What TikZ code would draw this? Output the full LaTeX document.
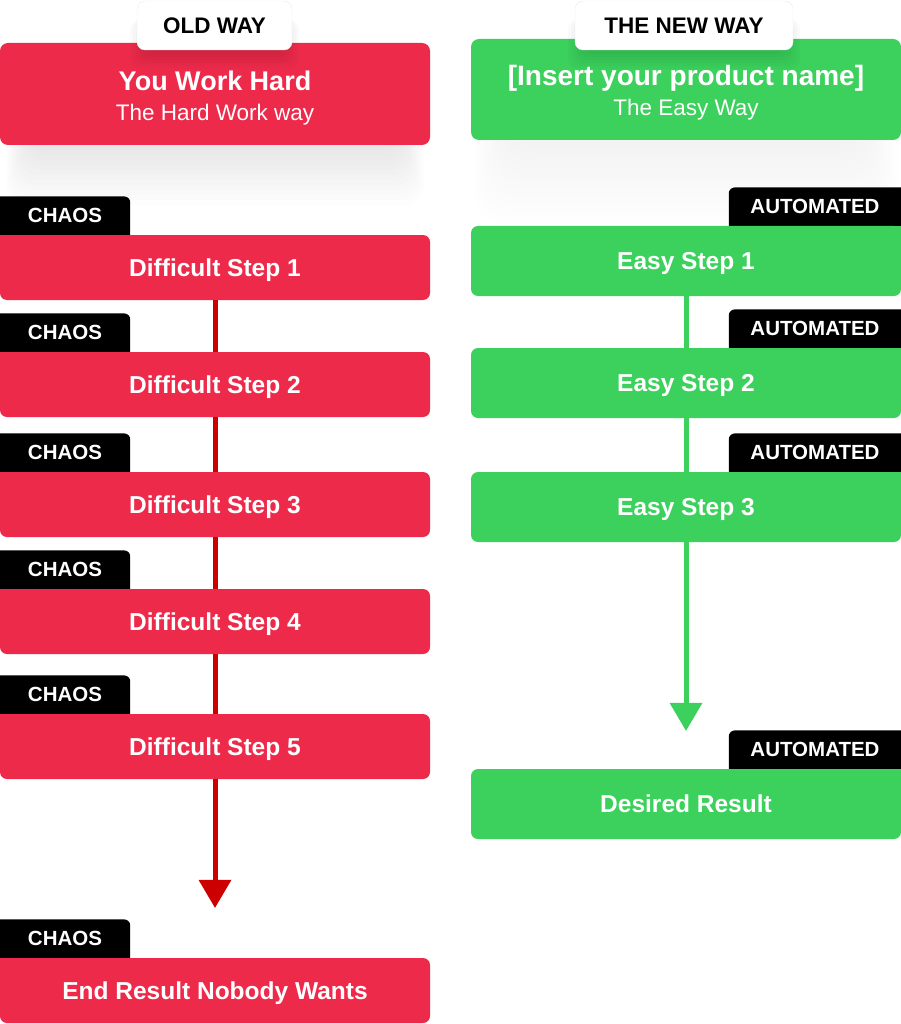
\documentclass[tikz,border=0pt]{standalone}
\usepackage{fontspec}
\setmainfont{Liberation Sans}
\usetikzlibrary{positioning,arrows.meta,backgrounds}
\definecolor{hardred}{RGB}{238,42,75}
\definecolor{easygreen}{RGB}{60,209,92}
\definecolor{arrowred}{RGB}{204,0,0}

\begin{document}
\begin{tikzpicture}[x=1pt,y=-1pt,
    headbox/.style={rounded corners=8pt,minimum width=430pt,inner sep=0pt,text=white,align=center,text height=57pt,font=\fontsize{22.5}{30}\selectfont},
    stepbox/.style={fill=hardred,rounded corners=7pt,minimum width=430pt,minimum height=65pt,inner sep=0pt,text depth=0pt,text=white,font=\fontsize{24.5}{28}\selectfont\bfseries},
    easybox/.style={stepbox,fill=easygreen,minimum height=70pt},
    tagbox/.style={minimum height=38pt,inner sep=0pt,text=white,font=\fontsize{20.5}{24}\selectfont\bfseries},
    tabbox/.style={fill=white,draw=black!7,rounded corners=8pt,minimum height=49pt,inner sep=0pt,font=\fontsize{22.5}{26}\selectfont\bfseries},
    redline/.style={arrowred,line width=5pt},
    greenline/.style={easygreen,line width=5pt},
    headtip/.style={-{Triangle[width=33pt,length=28pt,line width=0pt]}}]
		\useasboundingbox (0,0) rectangle (901,1024);

		% soft shadows under the headers
		\foreach \i in {1,...,12}
			\fill[black,opacity=0.007,rounded corners=20pt] (30-2*\i,100) rectangle (400+2*\i,145+5*\i);
		\foreach \i in {1,...,12}
			\fill[black,opacity=0.004,rounded corners=30pt] (510-3*\i,100) rectangle (862+3*\i,140+7*\i);

		\node[headbox,fill=hardred,minimum height=102pt] (hard) at (215,94) {{\fontsize{27}{30}\selectfont\bfseries You Work Hard}\\The Hard Work way};
		\node[headbox,fill=easygreen,minimum height=101pt] (easy) at (686,89.5) {{\fontsize{28}{30}\selectfont\bfseries [Insert your product name]}\\The Easy Way};

		\foreach \i in {0,...,5}
			\fill[black,opacity=0.02,rounded corners=10pt] (145-3*\i,20) rectangle (284+3*\i,54+3*\i);
		\foreach \i in {0,...,5}
			\fill[black,opacity=0.02,rounded corners=10pt] (583-3*\i,20) rectangle (785+3*\i,54+3*\i);
		\node[tabbox,minimum width=155pt] (old) at (214.5,25.5) {OLD WAY};
		\node[tabbox,minimum width=218pt] (new) at (684,25.5) {THE NEW WAY};

		\node[stepbox] (d1) at (215,267.5) {Difficult Step 1};
		\node[stepbox] (d2) at (215,384.5) {Difficult Step 2};
		\node[stepbox] (d3) at (215,504.5) {Difficult Step 3};
		\node[stepbox] (d4) at (215,621.5) {Difficult Step 4};
		\node[stepbox] (d5) at (215,746.5) {Difficult Step 5};
		\node[stepbox] (dres) at (215,990.5) {End Result Nobody Wants};

		\node[easybox] (e1) at (686,261) {Easy Step 1};
		\node[easybox] (e2) at (686,383) {Easy Step 2};
		\node[easybox] (e3) at (686,507) {Easy Step 3};
		\node[easybox] (eres) at (686,804) {Desired Result};

		\foreach \s in {d1,d2,d3,d4,d5,dres} {
			\fill[hardred] (\s.north west) rectangle ++(8,8);
			\node[tagbox,minimum width=130pt,above right=0pt of \s.north west] (\s-tag) {CHAOS};
			\begin{scope}[on background layer]
				\fill (\s-tag.south west) |- ([xshift=-6pt]\s-tag.north east) arc[start angle=-90,end angle=0,radius=6] -- (\s-tag.south east) -- cycle;
			\end{scope}
		}
		\foreach \s in {e1,e2,e3,eres} {
			\fill[easygreen] (\s.north east) rectangle ++(-8,8);
			\node[tagbox,minimum width=172pt,above left=0pt of \s.north east] (\s-tag) {AUTOMATED};
			\begin{scope}[on background layer]
				\fill (\s-tag.south east) |- ([xshift=6pt]\s-tag.north west) arc[start angle=-90,end angle=-180,radius=6] -- (\s-tag.south west) -- cycle;
			\end{scope}
		}

		\draw[redline] (d1.south) -- (d2.north);
		\draw[redline] (d2.south) -- (d3.north);
		\draw[redline] (d3.south) -- (d4.north);
		\draw[redline] (d4.south) -- (d5.north);
		\draw[redline,headtip] (d5.south) -- ([yshift=50pt]dres.north);

		\draw[greenline] (e1.south) -- (e2.north);
		\draw[greenline] (e2.south) -- (e3.north);
		\draw[greenline,headtip] (e3.south) -- ([yshift=38pt]eres.north);
\end{tikzpicture}
\end{document}
